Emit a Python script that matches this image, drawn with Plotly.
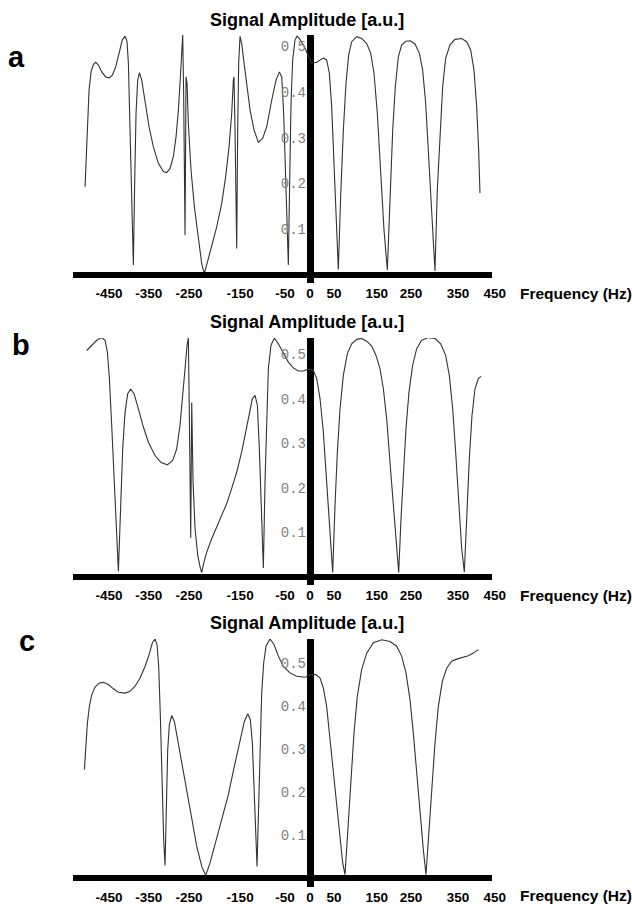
import plotly.graph_objects as go

# ---------------- data ----------------
freq_a = [-515, -512.7, -509.7, -505.9, -501.3, -496, -490.6, -484.5, -476.9, -467.7, -460.1, -452.4, -444.8,
          -437.2, -429.6, -423.4, -418.9, -415.8, -412.8, -409.7, -406.7, -404.4, -401.3, -398.3, -394.5,
          -390.6, -385.3, -377.7, -368.5, -358.6, -347.1, -335.7, -328.1, -320.4, -312.8, -306.7, -301.4,
          -296.8, -293.7, -291.4, -289.2, -286.1, -283.8, -281.5, -278.5, -272.4, -264.7, -255.6, -248,
          -241.9, -236.5, -225.1, -213.6, -202.2, -193.1, -185.4, -179.3, -175.5, -174, -171.7, -169.4,
          -167.8, -165.6, -163.3, -160.2, -156.4, -151, -145, -137.3, -128.2, -118.3, -108.3, -99.2, -87.7,
          -77.8, -70.2, -64.8, -60.3, -55.7, -51.9, -49.6, -46.5, -43.5, -39.7, -34.3, -29.7, -22.9, -13,
          -3.8, 3.8, 15.3, 30.5, 38.1, 44.3, 49.6, 55, 60.3, 64.8, 70.1, 76.3, 82.4, 88.5, 95.4, 106.8,
          118.3, 129.7, 138.9, 146.5, 154.1, 161.8, 169.4, 177, 183.1, 189.3, 195.3, 202.2, 209.9, 219.7,
          228.9, 240.3, 250.2, 257.9, 264.8, 272.4, 279.3, 286.1, 291.4, 297.6, 303.7, 310.6, 320.5, 331.9,
          347.2, 358.6, 367.8, 375.4, 381.5, 386.1, 389.1]
amp_a = [0.193, 0.258, 0.339, 0.404, 0.444, 0.46, 0.465, 0.459, 0.444, 0.433, 0.431, 0.437, 0.455,
         0.484, 0.514, 0.522, 0.51, 0.463, 0.353, 0.229, 0.105, 0.022, 0.207, 0.353, 0.426,
         0.442, 0.426, 0.382, 0.324, 0.28, 0.244, 0.226, 0.224, 0.233, 0.259, 0.302, 0.36,
         0.433, 0.492, 0.525, 0.39, 0.087, 0.433, 0.419, 0.331, 0.229, 0.149, 0.076, 0.025,
         0.003, 0.022, 0.062, 0.105, 0.156, 0.215, 0.28, 0.353, 0.426, 0.433, 0.317, 0.171,
         0.058, 0.317, 0.463, 0.522, 0.506, 0.463, 0.412, 0.361, 0.317, 0.29, 0.299, 0.324, 0.382,
         0.426, 0.444, 0.433, 0.353, 0.207, 0.084, 0.022, 0.207, 0.375, 0.47, 0.514, 0.522, 0.515, 0.499,
         0.477, 0.463, 0.465, 0.474, 0.47, 0.441, 0.368, 0.244, 0.113, 0.012, 0.171, 0.317, 0.419, 0.481, 0.51, 0.521,
         0.517, 0.506, 0.485, 0.441, 0.353, 0.23, 0.098, 0.011, 0.186, 0.317, 0.412, 0.477, 0.503, 0.511,
         0.512, 0.505, 0.485, 0.448, 0.375, 0.244, 0.113, 0.009, 0.186, 0.317, 0.412, 0.474, 0.503, 0.515,
         0.517, 0.51, 0.492, 0.448, 0.368, 0.273, 0.179]

freq_b = [-511.2, -499.8, -488.3, -476.9, -469.2, -463.9, -459.3, -454, -448.6, -443.3, -438.7, -433.4, -428.8,
          -423.4, -417.4, -410.5, -402.8, -392.9, -381.5, -370, -354.8, -341, -326.6, -314.3, -305.2, -297.6,
          -291.5, -286.1, -281.5, -278.5, -276.2, -273.1, -270.8, -267.8, -263.2, -257.1, -251.8, -248,
          -242.6, -236.5, -225.1, -213.6, -202.2, -190.7, -179.3, -167.8, -156.4, -147.2, -139.6, -131.9,
          -125.9, -120.5, -116, -111.4, -106.8, -103, -99.2, -95.4, -89.3, -81.6, -72.5, -61, -49.6, -38.1,
          -26.7, -15.2, -3.8, 7.6, 15.3, 22.9, 30.5, 38.1, 45.8, 51.9, 57.2, 62.6, 68.7, 76.3, 85.5, 95.4,
          106.8, 118.3, 129.7, 141.2, 151.1, 160.3, 167.9, 175.5, 183.1, 190.7, 196.9, 203, 208.3, 213.6,
          219.7, 226.6, 235, 244.2, 255.6, 270.9, 286.1, 299.1, 310.5, 318.9, 326.6, 333.4, 340.3, 347.2,
          353.3, 358.6, 364.7, 370.8, 377.7, 385.3, 391.4]
amp_b = [0.509, 0.521, 0.532, 0.538, 0.532, 0.506, 0.446, 0.341, 0.214, 0.086, 0.013, 0.161, 0.288,
         0.371, 0.412, 0.422, 0.412, 0.378, 0.337, 0.303, 0.273, 0.257, 0.252, 0.262, 0.288, 0.341,
         0.401, 0.468, 0.521, 0.537, 0.363, 0.088, 0.392, 0.214, 0.109, 0.049, 0.023, 0.01,
         0.034, 0.056, 0.086, 0.112, 0.139, 0.165, 0.199, 0.236, 0.281, 0.326, 0.371, 0.401,
         0.408, 0.386, 0.288, 0.154, 0.02, 0.214, 0.371, 0.468, 0.521, 0.537, 0.524, 0.502, 0.483, 0.47,
         0.463, 0.463, 0.467, 0.464, 0.446, 0.401, 0.326, 0.214, 0.086, 0.01, 0.161, 0.281, 0.378, 0.453, 0.502, 0.524,
         0.534, 0.536, 0.53, 0.519, 0.498, 0.468, 0.423, 0.356, 0.258, 0.161, 0.071, 0.01, 0.131, 0.236,
         0.333, 0.416, 0.476, 0.513, 0.532, 0.538, 0.536, 0.524, 0.498, 0.453, 0.378, 0.281, 0.169, 0.064,
         0.011, 0.131, 0.266, 0.363, 0.423, 0.446, 0.451]

freq_c = [-516.5, -513.5, -509.7, -505.1, -499.8, -492.1, -483, -473, -461.6, -450.1, -438.7, -423.4, -412,
          -400.6, -389.1, -377.7, -368.5, -360.9, -354.8, -350.2, -346.4, -342.6, -338.8, -335, -331.9,
          -328.8, -325.8, -322, -316.6, -310.5, -302.9, -293.7, -282.3, -270.8, -259.4, -247.9, -238.8,
          -228.9, -217.4, -202.2, -186.9, -173.2, -160.2, -150.3, -142.6, -136.6, -132, -128.2, -124.4,
          -121.3, -118.2, -114.4, -110.6, -106.1, -100.7, -91.6, -82.4, -72.5, -61, -45.8, -30.6, -11.4,
          3.8, 13.7, 22.9, 30.5, 38.1, 45.8, 53.4, 61, 68.7, 74.8, 80.1, 86.2, 93.1, 100.7, 108.3, 118.3,
          129.7, 145, 164, 183.1, 198.4, 209.8, 219.7, 228.9, 236.5, 244.2, 251.8, 259.4, 265.5, 271.6,
          278.5, 286.1, 293.8, 302.9, 312.8, 324.3, 335.7, 351, 362.4, 373.9, 385.3]
amp_c = [0.252, 0.314, 0.36, 0.399, 0.426, 0.444, 0.453, 0.455, 0.45, 0.44, 0.432, 0.43, 0.434,
         0.446, 0.465, 0.492, 0.519, 0.547, 0.556, 0.543, 0.492, 0.376, 0.221, 0.09, 0.029,
         0.182, 0.298, 0.357, 0.378, 0.364, 0.322, 0.267, 0.205, 0.136, 0.074, 0.027, 0.006,
         0.035, 0.078, 0.136, 0.194, 0.26, 0.322, 0.364, 0.382, 0.368, 0.314, 0.221, 0.105,
         0.027, 0.144, 0.314, 0.43, 0.5, 0.539, 0.556, 0.543, 0.516, 0.492, 0.477, 0.469, 0.467,
         0.473, 0.473, 0.465, 0.442, 0.399, 0.322, 0.244, 0.167, 0.089, 0.035, 0.008, 0.105, 0.221, 0.337, 0.423, 0.485,
         0.523, 0.547, 0.554, 0.55, 0.539, 0.516, 0.477, 0.415, 0.337, 0.244, 0.151, 0.066, 0.008, 0.097,
         0.205, 0.314, 0.399, 0.457, 0.488, 0.504, 0.509, 0.514, 0.517, 0.523, 0.531]

# tick labels of the frequency axis and where the reference prints them (it spaces them unevenly)
x_tick_text = ["-450", "-350", "-250", "-150", "-50", "0", "50", "150", "250", "350", "450"]
x_tick_pos = [-460, -369, -277, -160, -57, 0, 55, 153, 231, 339, 423]
y_tick_vals = [0.1, 0.2, 0.3, 0.4, 0.5]
y_tick_text = ["0.1", "0.2", "0.3", "0.4", "0.5"]

panel_letters = ["a", "b", "c"]
title_text = "Signal Amplitude [a.u.]"
xlabel_text = "Frequency (Hz)"

# ---------------- layout helpers ----------------
W, H = 632, 904
X_RANGE = [-542.6, 462.4]
X_DOM = [73 / W, 512 / W]
AXIS_LINE_END = (492 - 73) / (512 - 73)   # fraction of x domain where the thick x-axis ends
Y_POS = 310 / W                           # paper x of frequency 0

panels = [
    dict(f=freq_a, a=amp_a, dom=[1 - 283 / H, 1 - 35 / H], rng=[-0.0175, 0.5246],
         title_y=20, letter=(16, 57), tick_y=293),
    dict(f=freq_b, a=amp_b, dom=[1 - 585 / H, 1 - 338 / H], rng=[-0.018, 0.5371],
         title_y=322, letter=(21, 345), tick_y=595),
    dict(f=freq_c, a=amp_c, dom=[1 - 887 / H, 1 - 639 / H], rng=[-0.0209, 0.5558],
         title_y=623, letter=(27, 641), tick_y=895),
]

fig = go.Figure()
layout = dict(
    width=W, height=H, margin=dict(l=0, r=0, t=0, b=0),
    paper_bgcolor="white", plot_bgcolor="white", showlegend=False,
    shapes=[], annotations=[],
)

bold = dict(family="Liberation Sans, Arial, sans-serif", color="black", weight="bold")

for i, p in enumerate(panels, start=1):
    sx = "" if i == 1 else str(i)
    fig.add_trace(go.Scatter(
        x=p["f"], y=p["a"], mode="lines", xaxis="x" + sx, yaxis="y" + sx,
        line=dict(color="#333333", width=1.1),
        hoverinfo="skip",
    ))
    layout["xaxis" + sx] = dict(
        domain=X_DOM, range=X_RANGE, anchor="y" + sx,
        tickmode="array", tickvals=x_tick_pos, ticktext=x_tick_text,
        tickfont=dict(size=13.5, **bold), ticks="",
        showgrid=False, showline=False,
        zeroline=True, zerolinecolor="black", zerolinewidth=7,
        fixedrange=True,
    )
    layout["yaxis" + sx] = dict(
        domain=p["dom"], range=p["rng"], anchor="free", position=Y_POS,
        tickmode="array", tickvals=y_tick_vals, ticktext=y_tick_text,
        tickfont=dict(family="Liberation Mono, Courier New, monospace", size=14, color="#808080"),
        ticks="", ticklabelstandoff=4,
        showgrid=False, showline=False, zeroline=False, fixedrange=True,
    )
    # thick horizontal axis line at zero amplitude
    layout["shapes"].append(dict(
        type="line", xref="x" + sx + " domain", yref="y" + sx,
        x0=0, x1=AXIS_LINE_END, y0=0, y1=0,
        line=dict(color="black", width=6),
    ))
    layout["annotations"] += [
        dict(text=title_text, xref="paper", yref="paper", x=307 / W, y=1 - p["title_y"] / H,
             xanchor="center", yanchor="middle", showarrow=False, font=dict(size=18, **bold)),
        dict(text=panel_letters[i - 1], xref="paper", yref="paper",
             x=p["letter"][0] / W, y=1 - p["letter"][1] / H,
             xanchor="center", yanchor="middle", showarrow=False, font=dict(size=29, **bold)),
        dict(text=xlabel_text, xref="paper", yref="paper", x=1, y=1 - p["tick_y"] / H,
             xanchor="right", yanchor="middle", xshift=2, showarrow=False, font=dict(size=15.5, **bold)),
    ]

fig.update_layout(**layout)
fig.write_html(
    "out.html",
    config={"displayModeBar": False},
    post_script="document.body.style.margin='0';document.body.style.overflow='hidden';",
)
